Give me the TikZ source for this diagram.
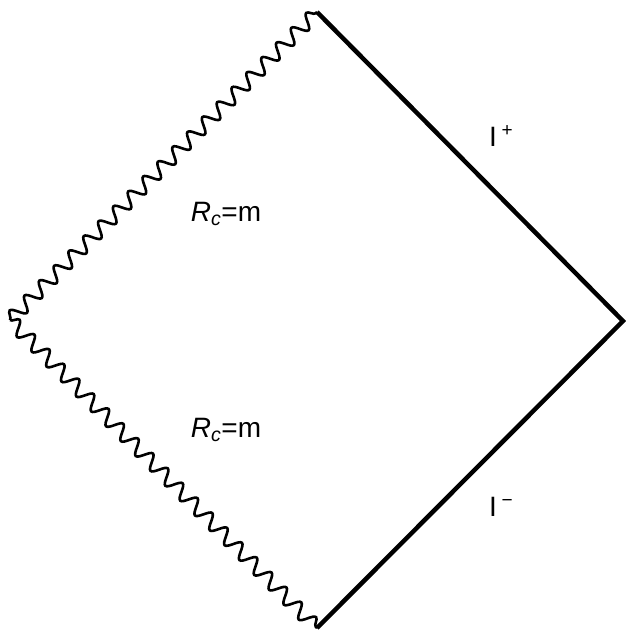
\documentclass[tikz,border=0pt]{standalone}
\usepackage{fontspec}
\setmainfont{Liberation Sans}
\usetikzlibrary{decorations.pathmorphing}
\begin{document}
\begin{tikzpicture}[x=1pt,y=-1pt,
  wavy/.style={line width=2.6pt,decorate,decoration={snake,segment length=21pt,amplitude=7pt}},
  bound/.style={line width=4.5pt,line cap=butt},
  lbl/.style={font=\fontsize{28}{30}\selectfont,inner sep=0pt}]
\useasboundingbox (0,0) rectangle (625,632);
\coordinate (T) at (317,12);
\coordinate (R) at (623,321);
\coordinate (B) at (317,628);
\coordinate (L) at (10,320);
\draw[wavy] (L) -- (T);
\draw[wavy] (L) -- (B);
\draw[bound] (T) -- (R) -- (B);
\node[lbl] (rc1) at (226,214) {$\mathit{R_c}$=m};
\node[lbl] (rc2) at (226,430) {$\mathit{R_c}$=m};
\node[lbl,anchor=base west] (iplus) at (489,146) {I\,\raisebox{10pt}{\fontsize{19}{20}\selectfont +}};
\node[lbl,anchor=base west] (iminus) at (489,516) {I\,\raisebox{10pt}{\fontsize{19}{20}\selectfont −}};
\end{tikzpicture}
\end{document}
